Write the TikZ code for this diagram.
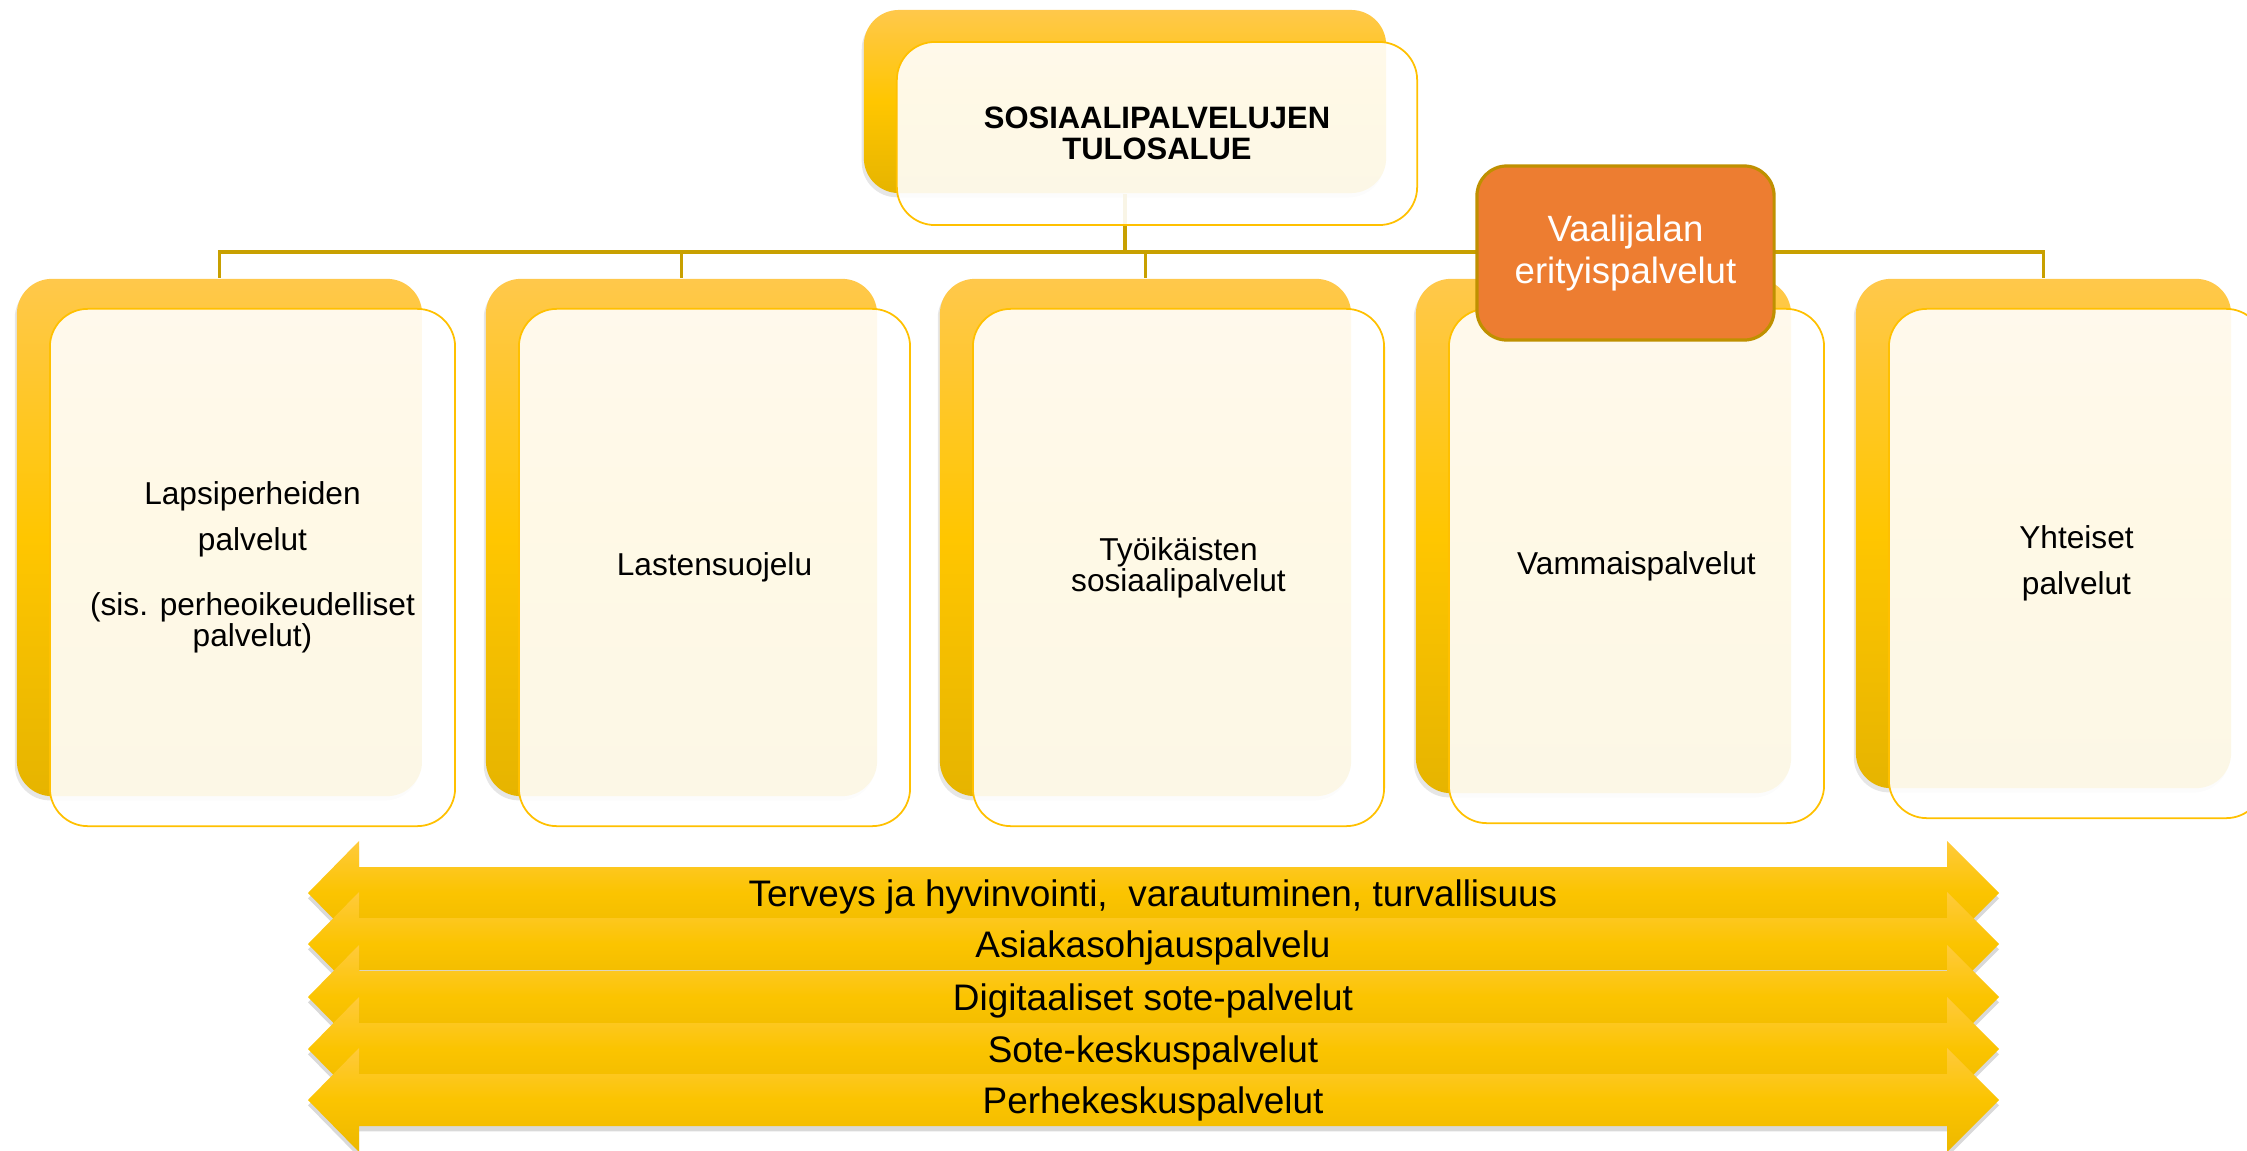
\documentclass[tikz,border=0pt]{standalone}
\usepackage{fontspec}
\setmainfont{Liberation Sans}
\usetikzlibrary{shadows}
\definecolor{goldtop}{HTML}{FFC84B}
\definecolor{goldmid}{HTML}{FFC600}
\definecolor{goldbot}{HTML}{E6B400}
\definecolor{frontline}{HTML}{FFC000}
\definecolor{conncol}{HTML}{C8A000}
\definecolor{vaalorange}{HTML}{ED7D31}
\definecolor{vaaledge}{HTML}{BF9000}
\definecolor{bandtop}{HTML}{FFCA3C}
\definecolor{bandmid}{HTML}{FBC400}
\definecolor{bandbot}{HTML}{EDB800}
\begin{document}
\begin{tikzpicture}[x=0.01cm,y=-0.01cm,
    backcard/.style={rounded corners=0.35cm, inner sep=0pt,
      top color=goldtop, bottom color=goldbot, middle color=goldmid,
      drop shadow={shadow xshift=-0.6pt, shadow yshift=-1.2pt, opacity=0.2}},
    frontcard/.style={rounded corners=0.38cm, draw=frontline, line width=0.5pt,
      fill=white, fill opacity=0.9, text opacity=1, align=center,
      font=\fontsize{9}{8.8}\selectfont},
    conn/.style={draw=conncol, line width=0.9pt},
    vaalbox/.style={rounded corners=0.3cm, fill=vaalorange, draw=vaaledge,
      line width=0.9pt, text=white, align=center,
      font=\fontsize{10.4}{11.9}\selectfont},
    band/.style={top color=bandtop, bottom color=bandbot, middle color=bandmid,
      drop shadow={shadow xshift=0pt, shadow yshift=-1.5pt, opacity=0.3}},
    bandtext/.style={font=\fontsize{10.5}{12}\selectfont}]
  \useasboundingbox (0,0) rectangle (2247,1151);
  \clip (0,0) rectangle (2247,1151);
  % back cards
  \node[backcard, minimum width=5.22cm, minimum height=1.83cm] (topb) at (1125,101.5) {};
  \node[backcard, minimum width=4.05cm, minimum height=5.17cm] (cb1) at (219.5,537.5) {};
  \node[backcard, minimum width=3.91cm, minimum height=5.17cm] (cb2) at (681.5,537.5) {};
  \node[backcard, minimum width=4.11cm, minimum height=5.17cm] (cb3) at (1145.5,537.5) {};
  \node[backcard, minimum width=3.75cm, minimum height=5.14cm] (cb4) at (1603.5,536) {};
  \node[backcard, minimum width=3.75cm, minimum height=5.09cm] (cb5) at (2043.5,533.5) {};
  % connectors
  \coordinate (bus) at (0,252);
  \draw[conn] (topb.south) -- (topb.south |- bus);
  \foreach \k in {1,...,5}
    \draw[conn] (topb.south |- bus) -| (cb\k.north);
  % front cards
  \node[frontcard, minimum width=5.2cm, minimum height=1.83cm,
    font=\bfseries\fontsize{8.8}{8.8}\selectfont] (topf) at ([shift={(32,32)}]topb.center)
    {SOSIAALIPALVELUJEN\\TULOSALUE};
  \node[frontcard, minimum width=4.05cm, minimum height=5.17cm] (cf1) at ([shift={(33,30)}]cb1.center)
    {Lapsiperheiden\\[4.3pt]palvelut\\[9.7pt](sis. perheoikeudelliset\\palvelut)};
  \node[frontcard, minimum width=3.91cm, minimum height=5.17cm] (cf2) at ([shift={(33,30)}]cb2.center)
    {Lastensuojelu};
  \node[frontcard, minimum width=4.11cm, minimum height=5.17cm] (cf3) at ([shift={(33,30)}]cb3.center)
    {Työikäisten\\sosiaalipalvelut};
  \node[frontcard, minimum width=3.75cm, minimum height=5.14cm] (cf4) at ([shift={(33,30)}]cb4.center)
    {Vammaispalvelut};
  \node[frontcard, minimum width=3.75cm, minimum height=5.09cm] (cf5) at ([shift={(33,30)}]cb5.center)
    {Yhteiset\\[4.2pt]palvelut};
  \node[vaalbox, minimum width=2.97cm, minimum height=1.74cm] (vaal) at (1625.5,253)
    {Vaalijalan\\erityispalvelut};
  % double arrows
  \foreach \c/\txt [count=\i] in {893/{Terveys ja hyvinvointi,~ varautuminen, turvallisuus},
      944/Asiakasohjauspalvelu, 997/{Digitaaliset sote-palvelut},
      1049/Sote-keskuspalvelut, 1100/Perhekeskuspalvelut}{
    \shade[band] (308,\c) -- (359,\c-52) -- (359,\c-26) -- (1947,\c-26) -- (1947,\c-52)
      -- (1999,\c) -- (1947,\c+52) -- (1947,\c+26) -- (359,\c+26) -- (359,\c+52) -- cycle;
    \node[bandtext] (band\i) at (1153,\c+4) {\txt};
  }
\end{tikzpicture}
\end{document}
